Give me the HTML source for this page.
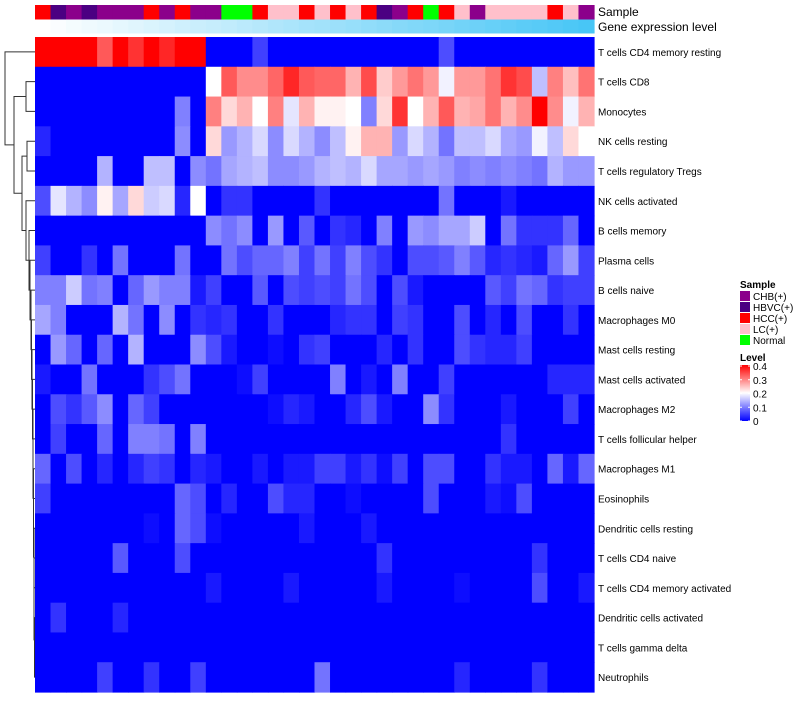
<!DOCTYPE html>
<html><head><meta charset="utf-8">
<style>
body{margin:0;background:#fff;width:800px;height:700px;overflow:hidden;font-family:"Liberation Sans",sans-serif;}
svg text{font-family:"Liberation Sans",sans-serif;}
</style></head>
<body>
<svg id="chart" width="800" height="700" xmlns="http://www.w3.org/2000/svg">
<defs>
<linearGradient id="lvl" x1="0" y1="1" x2="0" y2="0">
<stop offset="0" stop-color="#0000ff"/><stop offset="0.5" stop-color="#ffffff"/><stop offset="1" stop-color="#ff0000"/>
</linearGradient>
</defs>
<g id="annot"></g><g id="cells"></g><g id="labels"></g><g id="dendro" stroke="#333" stroke-width="1" fill="none"></g>
<g id="legend">
<text x="740" y="288" font-size="10" font-weight="bold">Sample</text>
<text x="740" y="361" font-size="10" font-weight="bold">Level</text>
<rect x="740" y="365" width="10" height="56" fill="url(#lvl)"/>
</g>
</svg>
<script>
const rowNames=["T cells CD4 memory resting","T cells CD8","Monocytes","NK cells resting","T cells regulatory  Tregs","NK cells activated","B cells memory","Plasma cells","B cells naive","Macrophages M0","Mast cells resting","Mast cells activated","Macrophages M2","T cells follicular helper","Macrophages M1","Eosinophils","Dendritic cells resting","T cells CD4 naive","T cells CD4 memory activated","Dendritic cells activated","T cells gamma delta","Neutrophils"];
const sampleGroups=["HCC(+)","HBVC(+)","CHB(+)","HBVC(+)","CHB(+)","CHB(+)","CHB(+)","HCC(+)","CHB(+)","HCC(+)","CHB(+)","CHB(+)","Normal","Normal","HCC(+)","LC(+)","LC(+)","HCC(+)","LC(+)","HCC(+)","LC(+)","HCC(+)","HBVC(+)","CHB(+)","HCC(+)","Normal","HCC(+)","LC(+)","CHB(+)","LC(+)","LC(+)","LC(+)","LC(+)","HCC(+)","LC(+)","CHB(+)"];
const geneLevel=[0,0.03,0.06,0.09,0.11,0.14,0.17,0.2,0.23,0.26,0.29,0.31,0.34,0.37,0.4,0.43,0.46,0.49,0.51,0.54,0.57,0.6,0.63,0.66,0.69,0.71,0.74,0.77,0.8,0.83,0.86,0.89,0.91,0.94,0.97,1];
const groupNames=["CHB(+)","HBVC(+)","HCC(+)","LC(+)","Normal"];
const groupColors=["#8b008b","#4b0082","#ff0000","#ffc0cb","#00ff00"];
const levelTicks=[0,0.1,0.2,0.3,0.4];
const r0=[40,40,40,40,33,40,36,40,37,40,40,0,0,0,5,0,0,0,0,0,0,0,0,0,0,0,6,0,0,0,0,0,0,0,0,0];
const r1=[0,0,0,0,0,0,0,0,0,0,0,20,33,29,29,32,37,33,32,32,26,34,24,28,31,28,19,28,28,31,36,34,15,30,25,31];
const r2=[0,0,0,0,0,0,0,0,0,10,0,30,23,26,20,30,18,26,21,21,20,10,23,36,20,26,33,26,27,31,26,29,40,29,19,26];
const r3=[3,0,0,0,0,0,0,0,0,11,0,23,12,14,17,11,17,14,11,15,21,26,26,12,17,14,9,15,15,17,13,12,19,15,23,20];
const r4=[0,0,0,0,14,0,0,15,15,0,11,9,13,14,15,11,11,12,14,15,14,17,13,13,12,13,12,10,11,10,11,10,9,14,12,12];
const r5=[6,18,14,11,21,13,23,16,17,3,20,0,4,4,0,0,0,0,4,0,0,0,0,0,0,0,9,0,0,0,2,0,0,0,0,0];
const r6=[0,0,0,0,0,0,0,0,0,0,0,11,9,11,0,12,0,7,0,4,3,0,10,0,12,11,13,13,16,0,9,4,4,4,8,0];
const r7=[5,0,0,4,0,9,0,0,0,9,0,0,9,6,8,8,10,5,9,5,10,6,4,0,6,6,7,10,7,3,4,3,2,8,12,5];
const r8=[10,10,16,9,10,0,8,12,10,10,2,5,0,0,7,0,6,5,6,5,9,6,0,6,2,0,0,0,0,7,5,9,8,4,5,5];
const r9=[13,10,0,0,0,14,9,0,11,0,4,3,4,0,0,4,0,0,0,3,4,4,0,5,4,0,0,6,0,3,0,6,0,0,4,0];
const r10=[0,12,8,0,8,0,14,0,0,0,11,6,2,0,0,1,0,4,5,0,0,0,3,0,4,0,0,6,4,3,3,5,0,0,0,0];
const r11=[2,0,0,9,0,0,0,4,6,9,0,0,0,1,5,0,0,0,0,10,0,2,0,10,0,0,5,0,0,0,0,0,0,3,3,3];
const r12=[0,6,4,7,11,0,8,5,0,0,0,0,0,0,0,1,3,2,0,0,3,6,2,0,0,11,4,0,0,0,2,0,0,0,5,0];
const r13=[0,5,0,0,8,0,10,10,9,0,10,0,0,0,0,0,0,0,0,0,0,0,0,0,0,0,0,0,0,0,4,0,0,0,0,0];
const r14=[8,0,6,0,3,0,3,5,4,0,3,2,0,0,2,0,2,2,5,5,2,4,1,5,0,6,6,0,0,4,2,2,0,8,2,8];
const r15=[5,0,0,0,0,0,0,0,0,8,6,0,3,0,0,6,3,3,0,0,1,0,0,0,0,6,0,0,0,2,1,6,0,0,0,0];
const r16=[0,0,0,0,0,0,0,1,0,8,6,1,0,0,0,0,0,2,0,0,0,2,0,0,0,0,0,0,0,0,0,0,0,0,0,0];
const r17=[0,0,0,0,0,7,0,0,0,6,0,0,0,0,0,0,0,0,0,0,0,0,4,0,0,0,0,0,0,0,0,0,4,0,0,0];
const r18=[0,0,0,0,0,0,0,0,0,0,0,2,0,0,0,0,2,0,0,0,0,0,2,0,0,0,0,1,0,0,0,0,6,0,0,2];
const r19=[0,4,0,0,0,3,0,0,0,0,0,0,0,0,0,0,0,0,0,0,0,0,0,0,0,0,0,0,0,0,0,0,0,0,0,0];
const r20=[0,0,0,0,0,0,0,0,0,0,0,0,0,0,0,0,0,0,0,0,0,0,0,0,0,0,0,0,0,0,0,0,0,0,0,0];
const r21=[0,0,0,0,5,0,0,4,0,0,5,0,0,0,0,0,0,0,9,0,0,0,0,0,0,0,0,3,0,0,0,0,4,0,0,0];
const values=[r0,r1,r2,r3,r4,r5,r6,r7,r8,r9,r10,r11,r12,r13,r14,r15,r16,r17,r18,r19,r20,r21];

const NS="http://www.w3.org/2000/svg";
const X0=35,X1=594,Y0=37,Y1=692,nC=36,nR=22;
const cw=(X1-X0)/nC, rh=(Y1-Y0)/nR;
const xPos=c=>X0+c*cw, yPos=r=>Y0+r*rh;
function mix(a,b,t){return a.map((v,i)=>Math.round(v+(b[i]-v)*t));}
function colorFor(v){ // v in 0..0.4
  v=Math.max(0,Math.min(0.4,v));
  const c=v<=0.2?mix([0,0,255],[255,255,255],v/0.2):mix([255,255,255],[255,0,0],(v-0.2)/0.2);
  return `rgb(${c[0]},${c[1]},${c[2]})`;
}
function mk(tag,attrs,parent){const e=document.createElementNS(NS,tag);for(const k in attrs)e.setAttribute(k,attrs[k]);parent.appendChild(e);return e;}
const cells=document.getElementById('cells');
values.forEach((row,r)=>row.forEach((v,c)=>{
  const e=mk('rect',{x:xPos(c),y:yPos(r),width:cw+0.6,height:rh+0.6,fill:colorFor(v/100)},cells);
  
  
}));
const annot=document.getElementById('annot');
sampleGroups.forEach((g,c)=>{
  const e=mk('rect',{x:xPos(c),y:5,width:cw+0.6,height:14.5,fill:groupColors[groupNames.indexOf(g)]},annot);
  
  
});
geneLevel.forEach((v,c)=>{
  const col=mix([255,255,255],[72,198,246],v);
  const e=mk('rect',{x:xPos(c),y:19.5,width:cw+0.6,height:14,fill:`rgb(${col})`},annot);
  
  
});
const labels=document.getElementById('labels');
let t=mk('text',{x:598,y:16,'font-size':12},labels);t.textContent='Sample';


t=mk('text',{x:598,y:31,'font-size':12},labels);t.textContent='Gene expression level';


rowNames.forEach((n,r)=>{
  const e=mk('text',{x:598,y:yPos(r)+rh/2+4,'font-size':10},labels);e.textContent=n;
  
  
});
// legend
const lg=document.getElementById('legend');
groupNames.forEach((g,i)=>{
  const y=291+i*11;
  const s=mk('rect',{x:740,y:y,width:10,height:10,fill:groupColors[i]},lg);
  
  
  const tx=mk('text',{x:753,y:y+9,'font-size':10},lg);tx.textContent=g;
  
  
});
levelTicks.forEach(v=>{
  const y=421-v/0.4*55;
  mk('line',{x1:740,x2:742,y1:y,y2:y,stroke:'#fff'},lg);
  mk('line',{x1:748,x2:750,y1:y,y2:y,stroke:'#fff'},lg);
  const tx=mk('text',{x:753,y:y+4,'font-size':10},lg);tx.textContent=String(v);
  
  
});
// dendrogram (structure approximated)
const dg=document.getElementById('dendro');
const yc=r=>Y0+(r+0.5)*rh;
function link(xn,ya,xa,yb,xb){ // node at xn joining children at (xa,ya),(xb,yb)
  mk('path',{d:`M${xa},${ya}H${xn}V${yb}H${xb}`},dg);
}
// ladder for rows 5..21
let nodes={};
let cy=yc(21),cx=35;
const ladderX=[26,29,30,31,31.5,32,32.5,33,33,33.5,33.5,34,34,34,34.5,34.5];
for(let r=20;r>=5;r--){
  const xn=ladderX[r-5];
  link(xn,yc(r),35,cy,cx);
  cy=(yc(r)+cy)/2;cx=xn;
}
const yLow=cy,xLow=cx;
link(27,yc(3),35,yc(4),35); const y34=(yc(3)+yc(4))/2;
link(22,y34,27,yLow,xLow); const yM=(y34+yLow)/2;
link(26,yc(1),35,yc(2),35); const y12=(yc(1)+yc(2))/2;
link(14,y12,26,yM,22); const yA=(y12+yM)/2;
link(5,yc(0),35,yA,14);
</script>
</body></html>
